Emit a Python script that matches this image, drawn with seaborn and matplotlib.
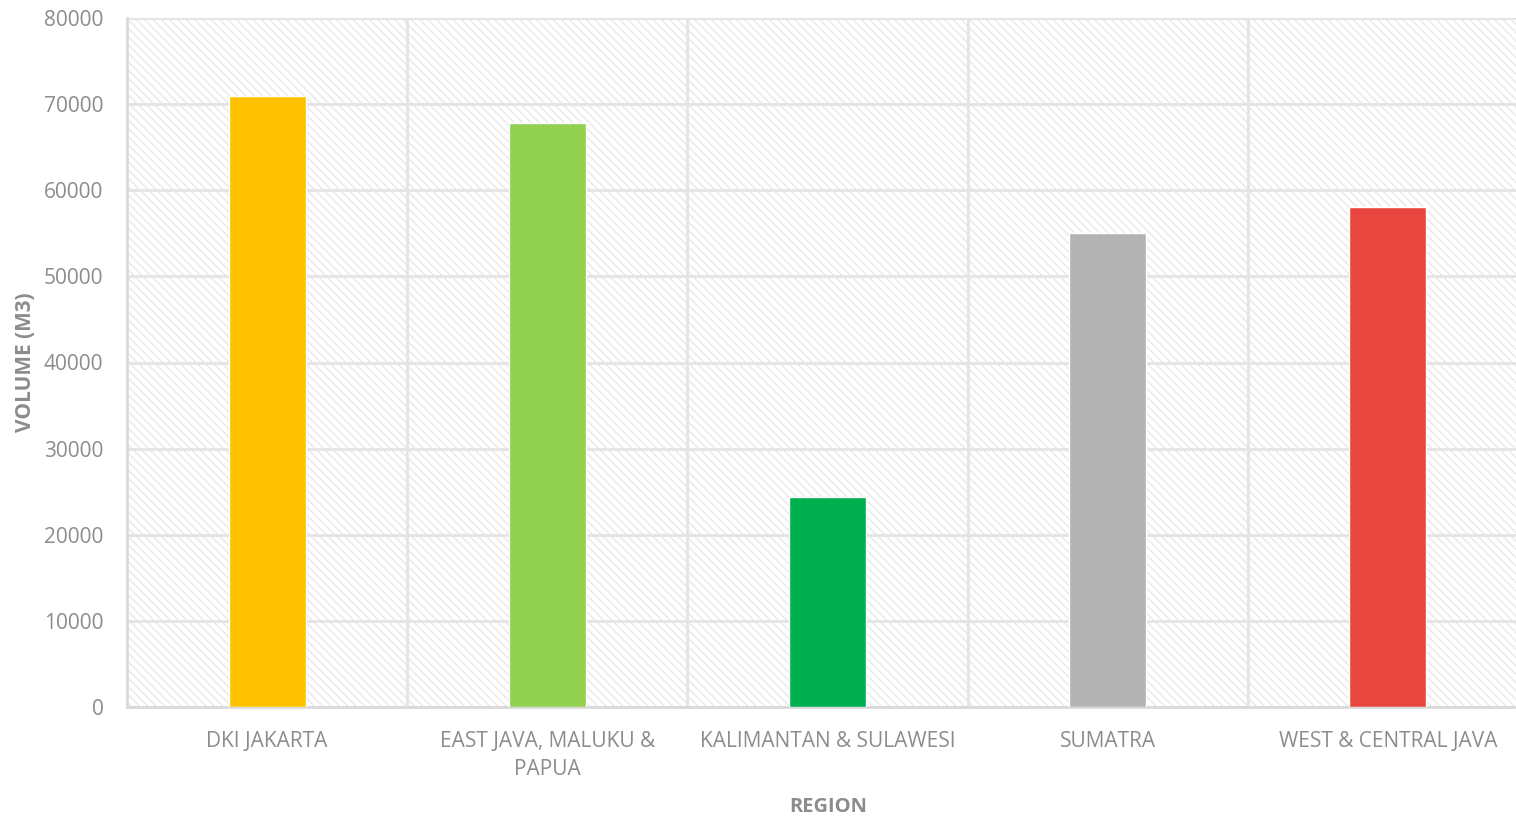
import matplotlib
matplotlib.use("Agg")
import matplotlib.pyplot as plt
import seaborn as sns
import pandas as pd
from matplotlib.ticker import FixedLocator

regions = ["DKI JAKARTA", "EAST JAVA, MALUKU &\nPAPUA", "KALIMANTAN & SULAWESI", "SUMATRA", "WEST & CENTRAL JAVA"]
volumes = [71000, 67850, 24400, 55050, 58100]
colors = ["#FFC000", "#92D050", "#00B050", "#B2B2B2", "#EA4640"]
y_ticks = [0, 10000, 20000, 30000, 40000, 50000, 60000, 70000, 80000]

sns.set_theme(style="white")
plt.rcParams["font.family"] = ["Open Sans", "DejaVu Sans"]
plt.rcParams["hatch.linewidth"] = 1.0
plt.rcParams["hatch.color"] = "#e8e8e8"

df = pd.DataFrame({"region": regions, "volume": volumes})

fig = plt.figure(figsize=(15.16, 8.19), dpi=100)
ax = fig.add_axes([127/1516, 1-707/819, (1528-127)/1516, (707-18)/819])

ax.patch.set_facecolor("white")
ax.patch.set_hatch("\\\\\\\\")
ax.patch.set_edgecolor("#e8e8e8")

sns.barplot(data=df, x="region", y="volume", hue="region", palette=colors,
            width=0.275, legend=False, ax=ax, saturation=1, zorder=3)

ax.set_xlim(-0.5, 4.5)
ax.set_ylim(0, 80000)
ax.set_yticks(y_ticks)
ax.set_yticklabels([str(v) for v in y_ticks])
ax.xaxis.set_minor_locator(FixedLocator([0.5, 1.5, 2.5, 3.5]))
ax.grid(axis="y", which="major", color="#e4e4e4", linewidth=2, zorder=1)
ax.grid(axis="x", which="minor", color="#e4e4e4", linewidth=2, zorder=1)
ax.set_axisbelow(True)

for s in ["top", "right"]:
    ax.spines[s].set_visible(False)
for s in ["left", "bottom"]:
    ax.spines[s].set_color("#d9d9d9")
    ax.spines[s].set_linewidth(2)

ax.tick_params(axis="both", which="both", length=0, colors="#8c8c8c", labelsize=15)
ax.tick_params(axis="y", pad=17)
ax.tick_params(axis="x", pad=17)
for lbl in ax.get_xticklabels():
    lbl.set_linespacing(1.45)

ax.set_ylabel("VOLUME (M3)", fontsize=15, fontweight="bold", color="#8c8c8c")
ax.set_xlabel("REGION", fontsize=14.5, fontweight="bold", color="#8c8c8c")
ax.yaxis.set_label_coords(-0.065, 0.5)
ax.xaxis.set_label_coords((828-127)/(1528-127), -(797-707)/(707-18))

fig.savefig("out.png", dpi=100)
